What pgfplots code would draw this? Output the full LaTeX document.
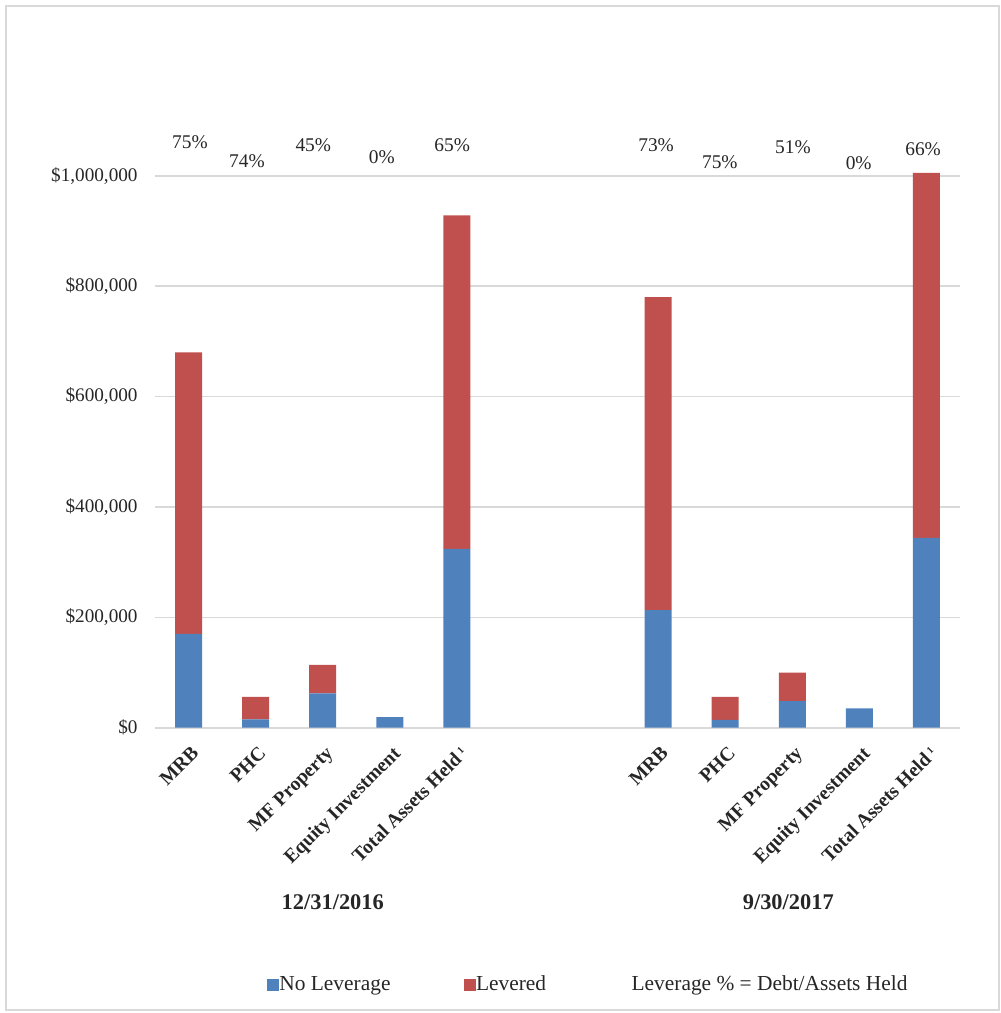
\documentclass[border=0pt]{standalone}
\usepackage{pgfplots}
\pgfplotsset{compat=1.18}
\usepackage{pgfplotstable}
\usepackage{fontspec}
\setmainfont{Liberation Serif}

\definecolor{nolev}{HTML}{4F81BD}
\definecolor{lev}{HTML}{C0504D}
\definecolor{gridgray}{HTML}{D9D9D9}
\definecolor{txt}{HTML}{262626}

% columns: slot, no leverage, levered (USD)
\pgfplotstableread{
x nolev lev
0 170000 510000
1 15000 41000
2 62000 52000
3 19000 0
4 324000 604000
7 213000 567000
8 14000 42000
9 48000 52000
10 35000 0
11 344000 661000
}\assets

\tikzset{pct/.style={font=\fontsize{9.7}{11}\selectfont, text=txt},
         grp/.style={font=\fontsize{11.2}{13}\selectfont\bfseries, text=txt}}
\newcommand\fn{\,\raisebox{0.6ex}{\fontsize{5}{6}\selectfont 1}}

\begin{document}
\begin{tikzpicture}
\path[use as bounding box] (0,0) rectangle (500.5pt,-506.5pt);
\draw[gridgray, line width=1pt] (3pt,-3pt) rectangle (499.5pt,-505pt);
\begin{axis}[
  at={(77.5pt,-363.85pt)}, anchor=south west,
  scale only axis, width=402.5pt, height=276pt,
  xmin=-0.5, xmax=11.5, ymin=0, ymax=1000000,
  clip=false,
  ybar stacked, bar width=13.5pt,
  axis line style={draw=none},
  major tick length=0pt,
  ymajorgrids, grid style={gridgray, line width=0.8pt},
  ytick={0,200000,400000,600000,800000,1000000},
  yticklabels={{\$0},{\$200,000},{\$400,000},{\$600,000},{\$800,000},{\$1,000,000}},
  yticklabel style={font=\fontsize{9.6}{11}\selectfont, text=txt, inner sep=0pt, xshift=-8.5pt},
  scaled y ticks=false,
  xtick={0,1,2,3,4,7,8,9,10,11},
  xticklabels={MRB,PHC,MF Property,Equity Investment,{Total Assets Held\fn},
               MRB,PHC,MF Property,Equity Investment,{Total Assets Held\fn}},
  xticklabel style={font=\fontsize{9.8}{12}\selectfont\bfseries, text=txt, inner sep=0pt,
                    xshift=1pt, yshift=-8.5pt, rotate=45, anchor=north east},
  legend image code/.code={\fill[#1] (0pt,-3pt) rectangle (6pt,3pt);},
  legend style={at={(axis description cs:0.1317,-0.466)}, anchor=west, draw=none, fill=none,
                legend columns=3, font=\fontsize{10.7}{12}\selectfont, text=txt,
                nodes={inner sep=0pt},
                /tikz/every even column/.append style={column sep=1.8pt},
                /tikz/every odd column/.append style={column sep=0pt}},
  legend cell align=left,
]
\addplot[draw=none, fill=nolev] table[x=x, y=nolev] {\assets};
\addlegendentry{\makebox[90.5pt][l]{No Leverage}}
\addplot[draw=none, fill=lev] table[x=x, y=lev] {\assets};
\addlegendentry{\makebox[76pt][l]{Levered}}
\addlegendimage{empty legend}
\addlegendentry{Leverage \% = Debt/Assets Held}

% leverage percentages above the groups
\node[pct] at (axis cs:0.02,1061000) {75\%};
\node[pct] at (axis cs:0.87,1026000) {74\%};
\node[pct] at (axis cs:1.86,1055000) {45\%};
\node[pct] at (axis cs:2.88,1034000) {0\%};
\node[pct] at (axis cs:3.93,1055000) {65\%};
\node[pct] at (axis cs:6.97,1055000) {73\%};
\node[pct] at (axis cs:7.92,1025000) {75\%};
\node[pct] at (axis cs:9.01,1052000) {51\%};
\node[pct] at (axis cs:9.99,1023000) {0\%};
\node[pct] at (axis cs:10.95,1048000) {66\%};

\node[grp] at (axis cs:2.15,-315800) {12/31/2016};
\node[grp] at (axis cs:8.94,-315800) {9/30/2017};
\end{axis}
\end{tikzpicture}
\end{document}
